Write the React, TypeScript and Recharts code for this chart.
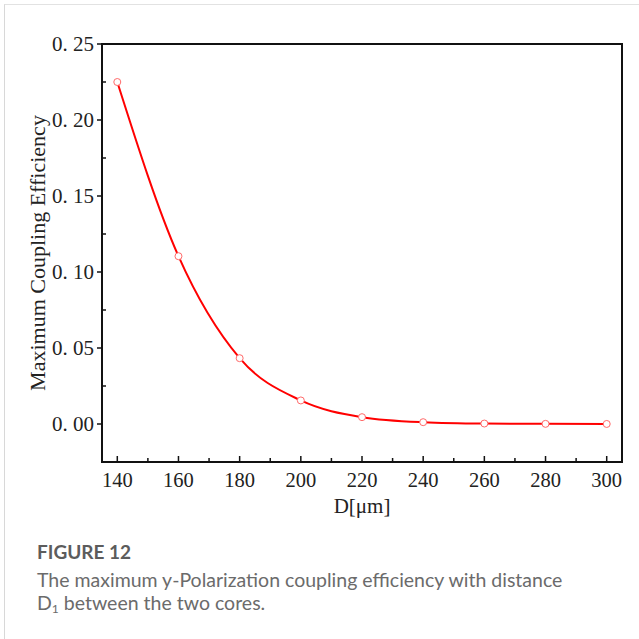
import { LineChart, Line, XAxis, YAxis, ReferenceArea } from "recharts";

// core separation D (μm) and the simulated maximum coupling efficiency
const distances = [140, 160, 180, 200, 220, 240, 260, 280, 300];
const efficiency = [0.225, 0.1104, 0.0433, 0.0155, 0.0045, 0.0012, 0.0003, 0.0001, 0.00003];

const xTicks = [140, 150, 160, 170, 180, 190, 200, 210, 220, 230, 240, 250, 260, 270, 280, 290, 300];
const yTicks = [0, 0.025, 0.05, 0.075, 0.1, 0.125, 0.15, 0.175, 0.2, 0.225, 0.25];

const data = distances.map((d, i) => ({ d, eff: efficiency[i] }));

const SERIF = '"Liberation Serif", "Times New Roman", serif';
const AXIS = "#111";

function XTick({ x, y, payload }: any) {
  const v = payload.value as number;
  const major = v % 20 === 0;
  return (
    <g>
      <line x1={x} x2={x} y1={y} y2={y - (major ? 6 : 4)} stroke={AXIS} strokeWidth={1.5} />
      {major && (
        <text x={x} y={y + 25} textAnchor="middle" fontFamily={SERIF} fontSize={20.5} fill="#222">
          {v}
        </text>
      )}
    </g>
  );
}

function YTick({ x, y, payload }: any) {
  const v = payload.value as number;
  const major = Math.round(v * 1000) % 50 === 0;
  return (
    <g>
      {major ? (
        <line x1={x} x2={x - 5} y1={y} y2={y} stroke={AXIS} strokeWidth={1.5} />
      ) : (
        <line x1={x} x2={x + 4} y1={y} y2={y} stroke={AXIS} strokeWidth={1.5} />
      )}
      {major && (
        <text
          x={x - 8}
          y={y}
          textAnchor="end"
          dominantBaseline="central"
          fontFamily={SERIF}
          fontSize={21}
          fill="#222"
        >
          {v.toFixed(2).replace(".", ". ")}
        </text>
      )}
    </g>
  );
}

function YTitle({ viewBox }: any) {
  const cx = viewBox.x + 37;
  const cy = viewBox.y + viewBox.height / 2;
  return (
    <text
      x={cx}
      y={cy}
      transform={`rotate(-90, ${cx}, ${cy})`}
      textAnchor="middle"
      dominantBaseline="central"
      fontFamily={SERIF}
      fontSize={22}
      fill="#222"
    >
      Maximum Coupling Efficiency
    </text>
  );
}

function Dot({ cx, cy }: any) {
  return <circle cx={cx} cy={cy} r={3.5} fill="#fff" stroke="#ff6a6a" strokeWidth={1} />;
}

export default function App() {
  return (
    <div
      style={{
        position: "absolute",
        left: 0,
        top: 0,
        width: 639,
        height: 639,
        background: "#fff",
        overflow: "hidden",
      }}
    >
      {/* card frame */}
      <div
        style={{
          position: "absolute",
          left: 4,
          top: 4,
          right: -2,
          bottom: -2,
          borderLeft: "1px solid #d8d8d8",
          borderTop: "1px solid #e2e2e2",
        }}
      />
      <div style={{ position: "absolute", left: 0, top: 0 }}>
        <LineChart
          width={639}
          height={530}
          data={data}
          margin={{ top: 44, right: 17, bottom: 0, left: 0 }}
        >
          <XAxis
            dataKey="d"
            type="number"
            domain={[135, 305]}
            ticks={xTicks}
            interval={0}
            height={68}
            axisLine={false}
            tickLine={false}
            tickSize={0}
            tickMargin={0}
            tick={<XTick />}
            label={{
              value: "D[μm]",
              position: "insideBottom",
              offset: 17,
              fontFamily: SERIF,
              fontSize: 21,
              fill: "#222",
            }}
          />
          <YAxis
            type="number"
            domain={[-0.025, 0.25]}
            ticks={yTicks}
            interval={0}
            width={102}
            axisLine={false}
            tickLine={false}
            tickSize={0}
            tickMargin={0}
            tick={<YTick />}
            label={<YTitle />}
          />
          <ReferenceArea
            x1={135}
            x2={305}
            y1={-0.025}
            y2={0.25}
            fill="none"
            fillOpacity={0}
            stroke={AXIS}
            strokeWidth={2}
            ifOverflow="visible"
          />
          <Line
            type="monotone"
            dataKey="eff"
            stroke="#ff0000"
            strokeWidth={2}
            dot={<Dot />}
            activeDot={false}
            isAnimationActive={false}
          />
        </LineChart>
      </div>
      <div
        style={{
          position: "absolute",
          left: 37,
          top: 540,
          fontFamily: "Lato, 'Open Sans', sans-serif",
          color: "#6b6b6b",
        }}
      >
        <div style={{ fontWeight: 700, fontSize: 19, color: "#5c5c5c", lineHeight: "24px" }}>FIGURE 12</div>
        <div style={{ fontSize: 19.5, lineHeight: "23px", marginTop: 4, whiteSpace: "nowrap" }}>
          The maximum y-Polarization coupling efficiency with distance
          <br />
          D<sub style={{ fontSize: 12, verticalAlign: "-3px", lineHeight: 0 }}>1</sub> between the two cores.
        </div>
      </div>
    </div>
  );
}
